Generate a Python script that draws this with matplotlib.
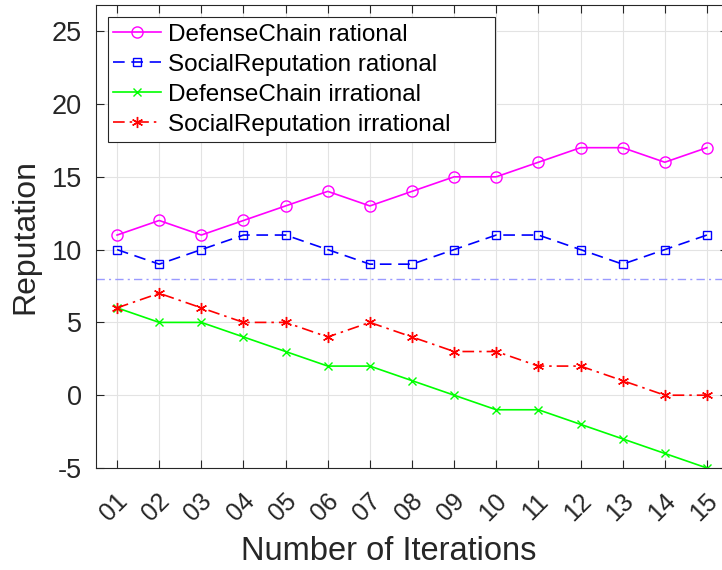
import numpy as np
import matplotlib
matplotlib.use("Agg")
import matplotlib.pyplot as plt
import matplotlib.transforms as mtransforms
from matplotlib.patches import Rectangle

plt.rcParams['font.family'] = ['Liberation Sans', 'DejaVu Sans']
plt.rcParams['axes.unicode_minus'] = False

# data
iterations = np.arange(1, 16)
tick_labels = ["%02d" % i for i in iterations]
dc_rational = [11, 12, 11, 12, 13, 14, 13, 14, 15, 15, 16, 17, 17, 16, 17]
sr_rational = [10, 9, 10, 11, 11, 10, 9, 9, 10, 11, 11, 10, 9, 10, 11]
dc_irrational = [6, 5, 5, 4, 3, 2, 2, 1, 0, -1, -1, -2, -3, -4, -5]
sr_irrational = [6, 7, 6, 5, 5, 4, 5, 4, 3, 3, 2, 2, 1, 0, 0]
threshold = 8

W, H = 722, 570
fig = plt.figure(figsize=(W / 100, H / 100), dpi=100)
# axes runs slightly past the right edge, as in the cropped original
left, right, top, bottom = 96, 728, 5, 468
ax = fig.add_axes([left / W, 1 - bottom / H, (right - left) / W, (bottom - top) / H])

ax.plot(iterations, dc_rational, color='#ff00ff', marker='o', markersize=8,
        markerfacecolor='none', linewidth=1.2, label="DefenseChain rational")
ax.plot(iterations, sr_rational, color='#0000ff', marker='s', markersize=5.5,
        markerfacecolor='none', linestyle=(0, (7, 4)), linewidth=1.2,
        label="SocialReputation rational")
ax.plot(iterations, dc_irrational, color='#00ff00', marker='x', markersize=6,
        linewidth=1.2, label="DefenseChain irrational")
ax.plot(iterations, sr_irrational, color='#ff0000', marker=(6, 2, 0), markersize=8,
        linestyle=(0, (7, 3, 1.5, 3)), linewidth=1.2, label="SocialReputation irrational")
ax.axhline(threshold, color='#9a9aff', linestyle=(0, (6, 3, 1.5, 3)), linewidth=1.0)

ax.set_xlim(0.5, 15.5)
ax.set_ylim(-5, 26.8)
ax.set_xticks(iterations)
ax.set_xticklabels(tick_labels, rotation=45, fontsize=18)
ax.set_yticks(np.arange(-5, 26, 5))
ax.tick_params(axis='y', labelsize=19.5, pad=10)
ax.tick_params(axis='x', pad=15)
ax.tick_params(direction='in', top=True, right=True, length=6, colors='#262626')
for s in ax.spines.values():
    s.set_color('#262626')
    s.set_linewidth(0.8)
ax.grid(True, color='#e3e3e3', linewidth=0.8)
ax.set_axisbelow(True)

# nudge the rotated labels a little to the left
shift = mtransforms.ScaledTranslation(-3 / 100, 0, fig.dpi_scale_trans)
for lbl in ax.get_xticklabels():
    lbl.set_transform(lbl.get_transform() + shift)

ax.set_xlabel("Number of Iterations", fontsize=23.5, color='#262626')
ax.xaxis.set_label_coords((388.5 - left) / (right - left), -(538 - bottom - 2) / (bottom - top),
                          transform=ax.transAxes)
ax.xaxis.label.set_va('top')
ax.set_ylabel("Reputation", fontsize=23, color='#262626', labelpad=8)

# legend box: MATLAB leaves extra room on the right, so draw the frame separately
def px(x, y):
    return ((x - left) / (right - left), 1 - (y - top) / (bottom - top))

bx0, by0 = px(108, 142)
bx1, by1 = px(495, 17)
ax.add_patch(Rectangle((bx0, by0), bx1 - bx0, by1 - by0, transform=ax.transAxes,
                       facecolor='white', edgecolor='#262626', linewidth=0.8, zorder=4))
leg = ax.legend(loc='upper left', bbox_to_anchor=px(108, 19),
                fontsize=17.5, frameon=False, handlelength=2.0, borderaxespad=0,
                labelspacing=0.33, borderpad=0.2, handletextpad=0.25)
leg.set_zorder(5)

fig.savefig("out.png", dpi=100)
